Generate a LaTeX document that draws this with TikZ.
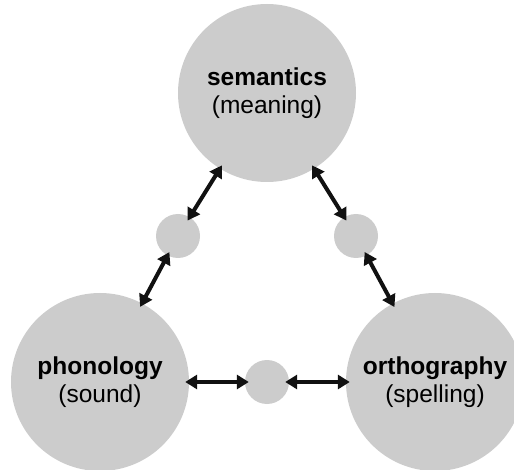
\documentclass[tikz,border=0pt]{standalone}
\usepackage{fontspec}
\setmainfont{Liberation Sans}
\usepackage{xcolor}
\usetikzlibrary{arrows.meta}
\definecolor{discgray}{HTML}{CCCCCC}
\definecolor{arrowblack}{HTML}{111111}

\begin{document}
\begin{tikzpicture}[
x=1pt, y=-1pt,
big/.style={circle, fill=discgray, inner sep=0pt, minimum size=178pt, align=center, font=\fontsize{24.5}{28}\selectfont},
hub/.style={circle, fill=discgray, inner sep=0pt, minimum size=44pt},
arrow/.style={{Triangle[length=12pt,width=14pt]}-{Triangle[length=12pt,width=14pt]}, line width=4pt, draw=arrowblack, shorten <=-4pt, shorten >=-4pt}
]
\useasboundingbox (0,0) rectangle (514,470);
\node[big] (sem) at (267,93) {\textbf{semantics}\\(meaning)};
\node[big] (pho) at (100,382) {\textbf{phonology}\\(sound)};
\node[big] (ort) at (435,382) {\textbf{orthography}\\(spelling)};
\node[hub] (hubl) at (178,236) {};
\node[hub] (hubr) at (356,236) {};
\node[hub] (hubb) at (267,382) {};

\draw[arrow] (sem) -- (hubl);
\draw[arrow] (hubl) -- (pho);
\draw[arrow] (sem) -- (hubr);
\draw[arrow] (hubr) -- (ort);
\draw[arrow] (pho) -- (hubb);
\draw[arrow] (hubb) -- (ort);
\end{tikzpicture}
\end{document}
